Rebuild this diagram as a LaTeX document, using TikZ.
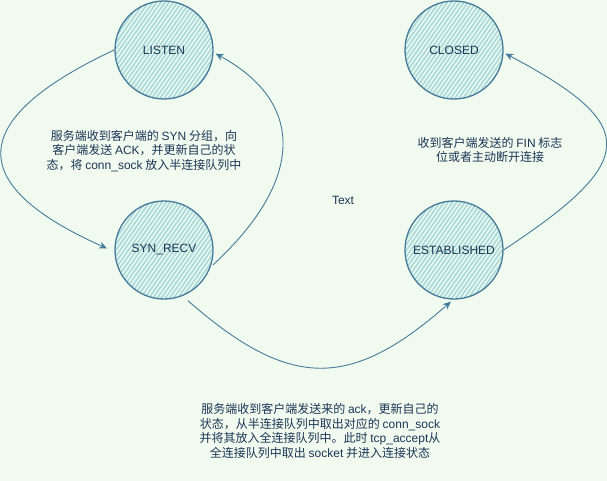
\documentclass[tikz,border=0pt]{standalone}
\usepackage{fontspec}
\setmainfont{Liberation Sans}
\newfontfamily\cjk{Noto Sans CJK SC}
\newfontfamily\lat{Liberation Sans}
\usetikzlibrary{arrows.meta,patterns.meta}
\definecolor{bg}{HTML}{F1FAEE}
\definecolor{hatch}{HTML}{A8DADC}
\definecolor{edge}{HTML}{457B9D}
\definecolor{ink}{HTML}{1D3557}
\newcommand\La[1]{{\lat #1}}
\begin{document}
\begin{tikzpicture}[x=1pt,y=-1pt,
  state/.style={circle, minimum size=98pt, inner sep=0pt, draw=edge, line width=1.3pt,
    pattern={Lines[angle=55,distance=3.4pt,line width=1.7pt]}, pattern color=hatch,
    text=ink, font=\lat\fontsize{12}{14}\selectfont},
  note/.style={align=center, text=ink, font=\cjk\fontsize{12}{14.5}\selectfont, inner sep=0pt},
  conn/.style={draw=edge, line width=0.9pt, -{Stealth[length=8pt,width=7pt,inset=2.5pt]}}]
\useasboundingbox (0,0) rectangle (607,481);
\fill[bg] (0,0) rectangle (607,481);

\node[state] (listen) at (164,50) {LISTEN};
\node[state] (closed) at (454,50) {CLOSED};
\node[state] (syn) at (164,250) {SYN\_RECV};
\node[state] (est) at (454,250) {ESTABLISHED};

\node[note] (l1) at (144,151) {服务端收到客户端的 \La{SYN} 分组，向\\客户端发送 \La{ACK}，并更新自己的状\\态，将 \La{conn\_sock} 放入半连接队列中};
\node[note] (l2) at (490,150) {收到客户端发送的 \La{FIN} 标志\\位或者主动断开连接};
\node[note] (l3) at (320,431) {服务端收到客户端发送来的 \La{ack}，更新自己的\\状态，从半连接队列中取出对应的 \La{conn\_sock}\\并将其放入全连接队列中。此时 \La{tcp\_accept}从\\全连接队列中取出 \La{socket} 并进入连接状态};
\node[text=ink, font=\lat\fontsize{12}{14}\selectfont] (t) at (343,200) {Text};

\draw[conn, shorten >=8pt] (listen.180) .. controls (-35,120) and (-35,185) .. (syn.182);
\draw[conn, shorten <=3pt, shorten >=2pt] (syn.-20) .. controls (300,185) and (310,105) .. (listen.-3);
\draw[conn, shorten <=7pt, shorten >=3pt] (syn.-68) .. controls (290,390) and (350,390) .. (est.-91);
\draw[conn, shorten >=2pt] (est.0) .. controls (640,160) and (640,125) .. (closed.-3);
\end{tikzpicture}
\end{document}
